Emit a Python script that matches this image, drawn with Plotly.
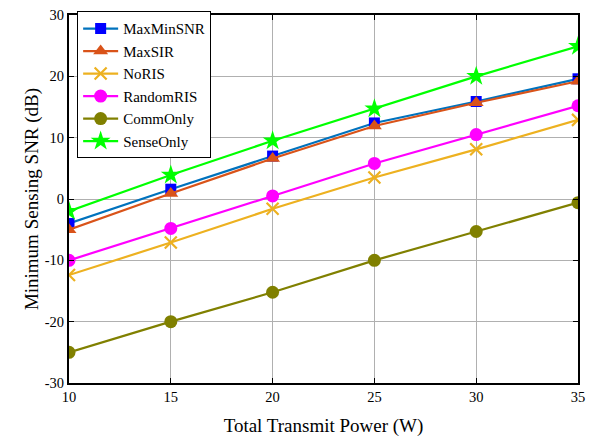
import plotly.graph_objects as go

power = [10, 15, 20, 25, 30, 35]
maxminsnr = [-4.0, 1.6, 7.0, 12.4, 15.9, 19.6]
maxsir = [-5.0, 0.9, 6.6, 11.9, 15.7, 19.2]
noris = [-12.4, -7.1, -1.6, 3.5, 8.1, 12.9]
randomris = [-10.0, -4.8, 0.5, 5.8, 10.5, 15.2]
commonly = [-25.0, -20.0, -15.2, -10.0, -5.3, -0.6]
senseonly = [-2.0, 3.9, 9.5, 14.7, 20.0, 24.9]

x_ticks = [10, 15, 20, 25, 30, 35]
y_ticks = [-30, -20, -10, 0, 10, 20, 30]
y_ticklabels = ["-30", "-20", "-10", "0", "10", "20", "30"]

series = [
    ("MaxMinSNR", maxminsnr, "#0072BD", "square", "#0000FF", 11),
    ("MaxSIR", maxsir, "#D95319", "triangle-up", "#D95319", 13),
    ("NoRIS", noris, "#EDB120", "x-thin", "#EDB120", 12),
    ("RandomRIS", randomris, "#FF00FF", "circle", "#FF00FF", 13),
    ("CommOnly", commonly, "#808000", "circle", "#808000", 13),
    ("SenseOnly", senseonly, "#00FF00", "star", "#00FF00", 15),
]

fig = go.Figure()
for name, vals, lc, sym, mc, ms in series:
    fig.add_trace(go.Scatter(
        x=power, y=vals, name=name, mode="lines+markers",
        line=dict(color=lc, width=2.2),
        marker=dict(symbol=sym, color=mc, size=ms,
                    line=dict(color=mc, width=2.2 if sym == "x-thin" else 0)),
    ))

font = "Liberation Serif, Times New Roman, serif"
fig.update_layout(
    width=599, height=443,
    margin=dict(l=69, r=21, t=7, b=60),
    paper_bgcolor="white", plot_bgcolor="white",
    font=dict(family=font, size=14.5, color="black"),
    legend=dict(x=0.016, y=1.01, xanchor="left", yanchor="top",
                bordercolor="black", borderwidth=1, bgcolor="white",
                font=dict(size=15, family=font), itemwidth=35,
                tracegroupgap=0),
    xaxis=dict(range=[10, 35], tickvals=x_ticks,
               showgrid=True, gridcolor="#b0b0b0", gridwidth=1,
               showline=True, linecolor="black", linewidth=2, mirror="ticks",
               ticks="inside", ticklen=5, tickcolor="black", zeroline=False,
               title=dict(text="Total Transmit Power (W)", font=dict(size=19), standoff=14),
               tickfont=dict(size=14.5)),
    yaxis=dict(range=[-30, 30], tickvals=y_ticks, ticktext=y_ticklabels,
               showgrid=True, gridcolor="#b0b0b0", gridwidth=1,
               showline=True, linecolor="black", linewidth=2, mirror="ticks",
               ticks="inside", ticklen=5, tickcolor="black", zeroline=False,
               title=dict(text="Minimum Sensing SNR (dB)", font=dict(size=19), standoff=1),
               tickfont=dict(size=14.5)),
)
fig.write_html("out.html")
